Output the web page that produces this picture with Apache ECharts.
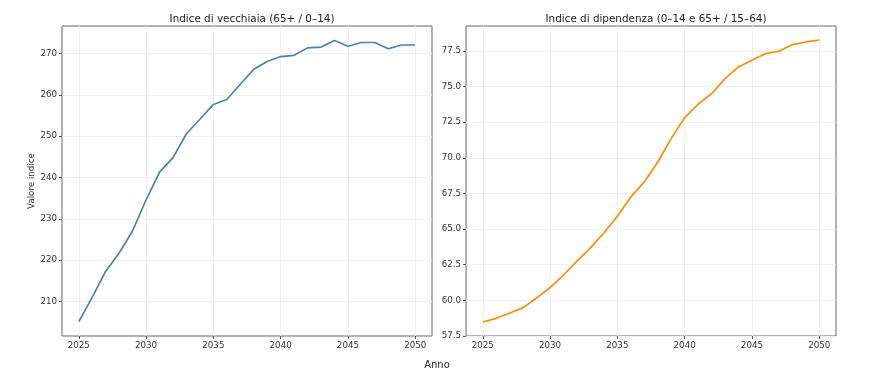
<!DOCTYPE html>
<html>
<head>
<meta charset="utf-8">
<script src="https://cdn.jsdelivr.net/npm/echarts@6/dist/echarts.min.js"></script>
<style>html,body{margin:0;padding:0;background:#fff;}#c{width:875px;height:383px;}</style>
</head>
<body>
<div id="c"></div>
<script>
const years = [2025,2026,2027,2028,2029,2030,2031,2032,2033,2034,2035,2036,2037,2038,2039,2040,2041,2042,2043,2044,2045,2046,2047,2048,2049,2050];
const oldAgeIndex = [205.1,211.0,217.3,221.7,227.1,234.6,241.3,244.8,250.6,254.1,257.7,258.9,262.6,266.2,268.1,269.3,269.6,271.4,271.6,273.2,271.8,272.7,272.7,271.2,272.1,272.1];
const dependencyIndex = [58.48,58.74,59.11,59.49,60.17,60.89,61.78,62.76,63.68,64.73,65.90,67.25,68.31,69.71,71.35,72.82,73.76,74.50,75.56,76.38,76.85,77.31,77.48,77.94,78.13,78.27];
const xTickLabels = [2025,2030,2035,2040,2045,2050];
const leftYTicks = [210,220,230,240,250,260,270];
const rightYTicks = [57.5,60.0,62.5,65.0,67.5,70.0,72.5,75.0,77.5];
const titles = ['Indice di vecchiaia (65+ / 0–14)','Indice di dipendenza (0–14 e 65+ / 15–64)'];
const yName = 'Valore indice';
const xName = 'Anno';

const font = 'DejaVu Sans';
const gridLine = {show:true, lineStyle:{color:'#f0f0f0', width:1}};
function xAxis(idx){
  return {
    type:'value', gridIndex:idx, min:2023.75, max:2051.25,
    axisLine:{show:false},
    axisTick:{show:true, length:3, customValues:xTickLabels, lineStyle:{color:'#555'}},
    axisLabel:{customValues:xTickLabels, color:'#333', fontFamily:font, fontSize:8.7, margin:5, formatter:v=>String(Math.round(v))},
    splitLine:gridLine
  };
}
function yAxis(idx, min, max, ticks, fmt){
  return {
    type:'value', gridIndex:idx, min:min, max:max,
    axisLine:{show:false},
    axisTick:{show:true, length:3, customValues:ticks, lineStyle:{color:'#555'}},
    axisLabel:{customValues:ticks, color:'#333', fontFamily:font, fontSize:8.7, margin:5, formatter:fmt},
    splitLine:gridLine
  };
}
const chart = echarts.init(document.getElementById('c'), null, {renderer:'canvas'});
chart.setOption({
  animation:false,
  backgroundColor:'#fff',
  title:[
    {text:titles[0], left:247, top:9, textAlign:'center', textStyle:{fontFamily:font, fontSize:10.4, fontWeight:'normal', color:'#222'}},
    {text:titles[1], left:651, top:9, textAlign:'center', textStyle:{fontFamily:font, fontSize:10.4, fontWeight:'normal', color:'#222'}},
    {text:xName, left:432, top:355, textAlign:'center', textStyle:{fontFamily:font, fontSize:10, fontWeight:'normal', color:'#222'}}
  ],
  grid:[
    {left:62, top:26, width:370, height:310, show:true, borderColor:'#666', borderWidth:1, backgroundColor:'transparent'},
    {left:466, top:26, width:370, height:310, show:true, borderColor:'#666', borderWidth:1, backgroundColor:'transparent'}
  ],
  xAxis:[xAxis(0), xAxis(1)],
  yAxis:[
    Object.assign(yAxis(0, 201.6, 276.7, leftYTicks, v=>String(Math.round(v))), {name:yName, nameLocation:'middle', nameGap:26, nameTextStyle:{fontFamily:font, fontSize:8.7, color:'#333'}}),
    yAxis(1, 57.5, 79.25, rightYTicks, v=>v.toFixed(1))
  ],
  series:[
    {type:'line', xAxisIndex:0, yAxisIndex:0, data:years.map((y,i)=>[y,oldAgeIndex[i]]), showSymbol:false, lineStyle:{color:'#4682b4', width:1.7}, itemStyle:{color:'#4682b4'}},
    {type:'line', xAxisIndex:1, yAxisIndex:1, data:years.map((y,i)=>[y,dependencyIndex[i]]), showSymbol:false, lineStyle:{color:'#ff8c00', width:1.7}, itemStyle:{color:'#ff8c00'}}
  ]
});
</script>
</body>
</html>
